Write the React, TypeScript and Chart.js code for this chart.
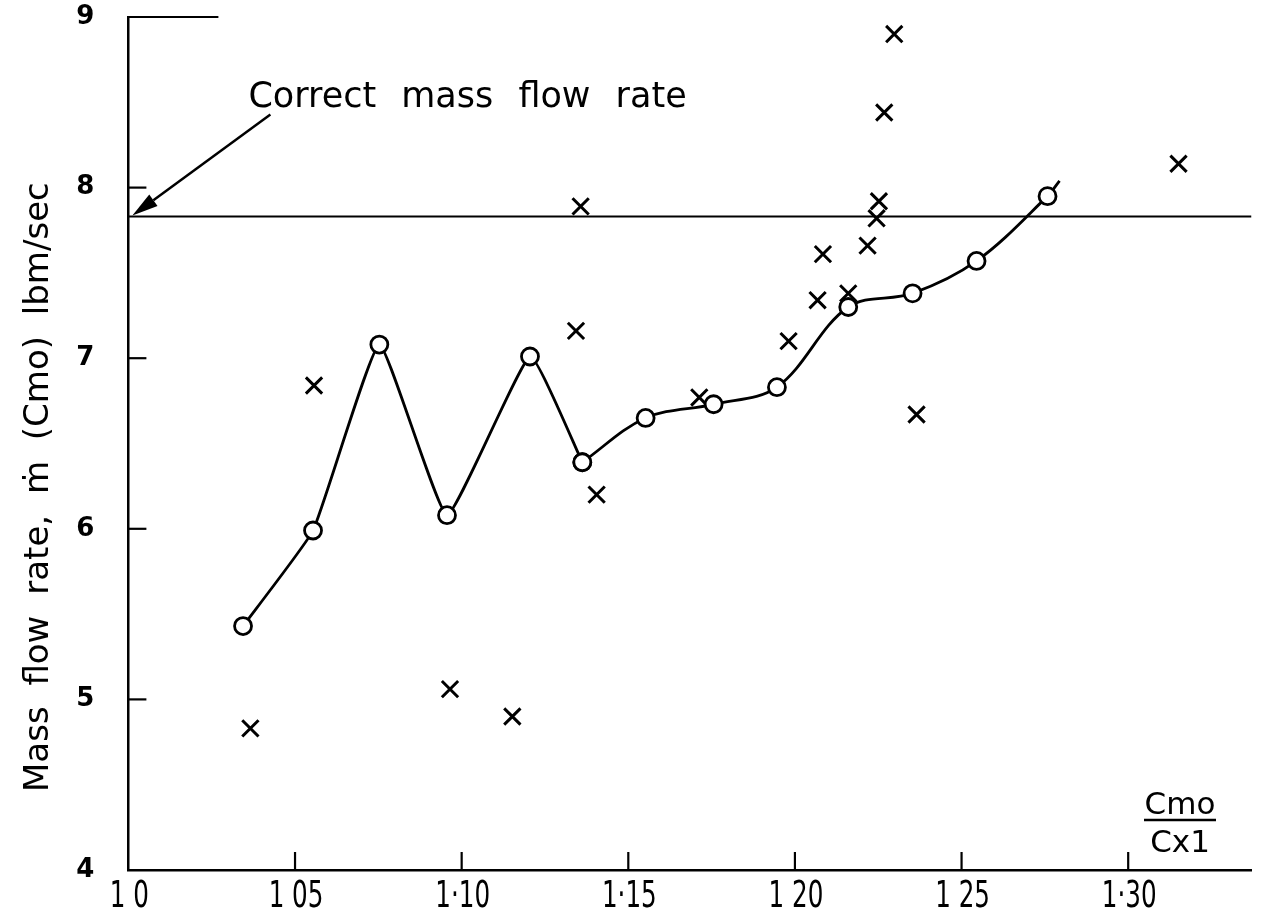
import React, { useEffect, useRef } from "react";
import { Chart, registerables } from "chart.js";

Chart.register(...registerables);

// ---- data ----
// smooth curve through the circled points (first, jagged part and second, smooth part share one point)
const curveAX = [1.0344, 1.0554, 1.0753, 1.0956, 1.1205, 1.1362];
const curveAY = [5.43, 5.99, 7.08, 6.08, 7.01, 6.39];
const curveBX = [1.1362, 1.1552, 1.1756, 1.1946, 1.216, 1.2353, 1.2545, 1.2758, 1.2794];
const curveBY = [6.39, 6.65, 6.73, 6.83, 7.3, 7.38, 7.57, 7.95, 8.04];
const curveBHasMarker = [true, true, true, true, true, true, true, true, false];

const crossX = [1.0366, 1.0557, 1.0965, 1.1152, 1.1343, 1.1357, 1.1405, 1.1713, 1.1981, 1.2068, 1.2084, 1.216, 1.2218, 1.2245, 1.2252, 1.2268, 1.2298, 1.2365, 1.3151];
const crossY = [4.83, 6.84, 5.06, 4.9, 7.16, 7.89, 6.2, 6.77, 7.1, 7.34, 7.61, 7.38, 7.66, 7.82, 7.92, 8.44, 8.9, 6.67, 8.14];

const correctRate = 7.83;

const xTickValues = [1.0, 1.05, 1.1, 1.15, 1.2, 1.25, 1.3];
const xTickLabels = ["1 0", "1 05", "1·10", "1·15", "1 20", "1 25", "1·30"];
const yTickValues = [4, 5, 6, 7, 8, 9];
const yTickLabels = ["4", "5", "6", "7", "8", "9"];

const xMin = 1.0;
const xMax = 1.337;
const yMin = 4;
const yMax = 9;

const yTitle = "Mass flow rate, ṁ (Cmo) lbm/sec";
const noteText = "Correct mass flow rate";
const fracTop = "Cmo";
const fracBottom = "Cx1";

const FONT = '"DejaVu Sans", "Noto Sans", sans-serif';
const CONDENSED = '"DejaVu Sans Condensed", "Liberation Sans Narrow", "DejaVu Sans", sans-serif';

const decorPlugin = {
  id: "decor",
  afterDatasetsDraw(chart: any) {
    const { ctx, chartArea: a, scales } = chart;
    const x = scales.x;
    const y = scales.y;
    const line = (x1: number, y1: number, x2: number, y2: number) => {
      ctx.beginPath();
      ctx.moveTo(x1, y1);
      ctx.lineTo(x2, y2);
      ctx.stroke();
    };
    ctx.save();
    ctx.strokeStyle = "#000";
    ctx.fillStyle = "#000";
    ctx.lineWidth = 2.2;
    ctx.lineCap = "butt";

    // inward tick marks on x axis
    xTickValues.slice(1).forEach((v) => {
      const px = x.getPixelForValue(v);
      line(px, a.bottom, px, a.bottom - 18);
    });
    // inward tick marks on y axis
    yTickValues.slice(1, -1).forEach((v) => {
      const py = y.getPixelForValue(v);
      line(a.left, py, a.left + 18, py);
    });
    // top line at y max
    const pyTop = y.getPixelForValue(yMax);
    line(a.left - 1, pyTop, a.left + 90, pyTop);

    // x tick labels: tall, narrow lettering placed at the scale's tick positions
    ctx.save();
    ctx.font = `38px ${CONDENSED}`;
    ctx.textAlign = "center";
    ctx.textBaseline = "alphabetic";
    xTickValues.forEach((v, i) => {
      const px = x.getPixelForValue(v);
      ctx.save();
      ctx.translate(px + 1, a.bottom + 37);
      ctx.scale(0.72, 1);
      ctx.fillText(xTickLabels[i], 0, 0);
      ctx.restore();
    });
    ctx.restore();

    // annotation arrow
    const tipX = x.getPixelForValue(xMin) + 4;
    const tipY = y.getPixelForValue(correctRate) - 1;
    const sx = tipX + 138;
    const sy = tipY - 101;
    ctx.lineWidth = 2.5;
    const ang = Math.atan2(tipY - sy, tipX - sx);
    const headLen = 26;
    const headHalf = 7;
    const bx = tipX - headLen * Math.cos(ang);
    const by = tipY - headLen * Math.sin(ang);
    line(sx, sy, bx, by);
    ctx.beginPath();
    ctx.moveTo(tipX, tipY);
    ctx.lineTo(bx + headHalf * Math.sin(ang), by - headHalf * Math.cos(ang));
    ctx.lineTo(bx - headHalf * Math.sin(ang), by + headHalf * Math.cos(ang));
    ctx.closePath();
    ctx.fill();

    // annotation text
    ctx.font = `35px ${FONT}`;
    ctx.textAlign = "left";
    ctx.textBaseline = "alphabetic";
    (ctx as any).wordSpacing = "14px";
    ctx.fillText(noteText, a.left + 120, a.top + 90);

    // y-axis title (rotated)
    ctx.save();
    ctx.translate(48, 792);
    ctx.rotate(-Math.PI / 2);
    ctx.font = `34px ${FONT}`;
    (ctx as any).wordSpacing = "10px";
    ctx.fillText(yTitle, 0, 0);
    ctx.restore();

    // x-axis fraction label
    (ctx as any).wordSpacing = "0px";
    ctx.font = `31px ${FONT}`;
    ctx.textAlign = "center";
    const fx = 1180;
    ctx.fillText(fracTop, fx, 814);
    ctx.lineWidth = 2.5;
    line(fx - 36, 820, fx + 36, 820);
    ctx.fillText(fracBottom, fx, 852);
    ctx.restore();
  },
};

export default function App() {
  const canvasRef = useRef<HTMLCanvasElement | null>(null);

  useEffect(() => {
    const canvas = canvasRef.current;
    if (!canvas) return;
    const curveAData = curveAX.map((v, i) => ({ x: v, y: curveAY[i] }));
    const curveBData = curveBX.map((v, i) => ({ x: v, y: curveBY[i] }));
    const crossData = crossX.map((v, i) => ({ x: v, y: crossY[i] }));
    const correctData = [
      { x: xMin, y: correctRate },
      { x: xMax, y: correctRate },
    ];

    const circleStyle = {
      showLine: true,
      borderColor: "#000",
      borderWidth: 2.8,
      pointStyle: "circle",
      pointBorderWidth: 2.8,
      pointBackgroundColor: "#fff",
      pointBorderColor: "#000",
      order: 1,
    };

    const chart = new Chart(canvas, {
      type: "scatter",
      data: {
        datasets: [
          {
            label: "Correct mass flow rate",
            data: correctData,
            showLine: true,
            borderColor: "#000",
            borderWidth: 2,
            pointRadius: 0,
            order: 3,
          },
          {
            label: "Curve (part 1)",
            data: curveAData,
            tension: 0.12,
            pointRadius: 8.5,
            ...circleStyle,
          },
          {
            label: "Curve (part 2)",
            data: curveBData,
            tension: 0.35,
            pointRadius: curveBHasMarker.map((m) => (m ? 8.5 : 0)),
            ...circleStyle,
          },
          {
            label: "Measured",
            data: crossData,
            showLine: false,
            pointStyle: "crossRot",
            pointRadius: 11.5,
            pointBorderWidth: 3,
            pointBorderColor: "#000",
            pointBackgroundColor: "#000",
            order: 2,
          },
        ],
      },
      options: {
        animation: false,
        responsive: false,
        maintainAspectRatio: false,
        layout: { padding: { left: 0, right: 13, top: 17, bottom: 0 } },
        plugins: {
          legend: { display: false },
          tooltip: { enabled: false },
        },
        scales: {
          x: {
            type: "linear",
            min: xMin,
            max: xMax,
            afterBuildTicks: (s: any) => {
              s.ticks = xTickValues.map((v) => ({ value: v }));
            },
            afterFit: (s: any) => {
              s.height = 44;
            },
            grid: { display: false, drawTicks: false },
            border: { display: true, color: "#000", width: 2.5 },
            ticks: { display: false },
          },
          y: {
            type: "linear",
            min: yMin,
            max: yMax,
            afterBuildTicks: (s: any) => {
              s.ticks = yTickValues.map((v) => ({ value: v }));
            },
            afterFit: (s: any) => {
              s.width = 128.4;
            },
            grid: { display: false, drawTicks: true, tickLength: 34 },
            border: { display: true, color: "#000", width: 2.5 },
            ticks: {
              color: "#000",
              padding: 0,
              font: { family: FONT, size: 26, weight: "bold" },
              callback: (value: any) => {
                const i = yTickValues.findIndex((t) => Math.abs(t - Number(value)) < 1e-6);
                return i >= 0 ? yTickLabels[i] : "";
              },
            },
          },
        },
      },
      plugins: [decorPlugin],
    });
    return () => chart.destroy();
  }, []);

  return (
    <div style={{ position: "fixed", left: 0, top: 0, width: 1266, height: 914, background: "#fff" }}>
      <canvas ref={canvasRef} width={1266} height={914} style={{ width: 1266, height: 914, display: "block" }} />
    </div>
  );
}
